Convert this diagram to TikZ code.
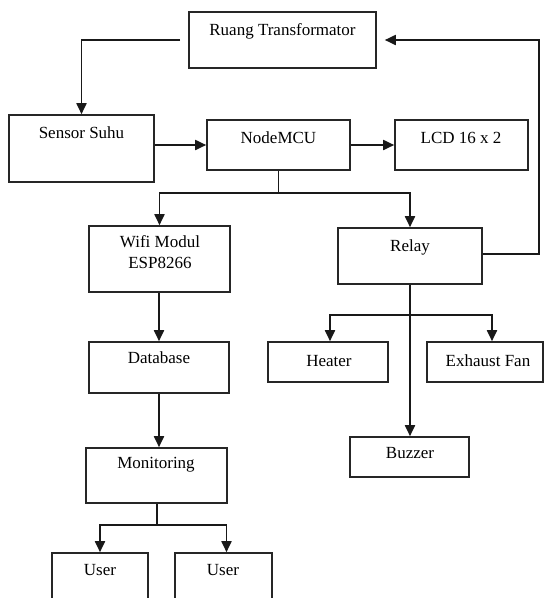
\documentclass[tikz,border=0pt]{standalone}
\usepackage{fontspec}
\setmainfont{Liberation Serif}
\usetikzlibrary{arrows.meta,calc}
\begin{document}
\begin{tikzpicture}[x=1pt,y=1pt,
  box/.style={draw=black!85,line width=1.6pt,rectangle,inner sep=0pt},
  lbl/.style={anchor=base,font=\fontsize{17}{20}\selectfont,inner sep=0pt,text=black},
  arr/.style={draw=black!90,line width=1.8pt,-{Triangle[width=10pt,length=11pt]}},
  ln/.style={draw=black!90,line width=1.8pt}]
\fill[white] (0,0) rectangle (544,-598);
\useasboundingbox (0,0) rectangle (544,-598);
% boxes
\node[box,minimum width=187pt,minimum height=56pt] (ruang) at (282.5,-40) {};
\node[box,minimum width=145pt,minimum height=67pt] (sensor) at (81.5,-148.5) {};
\node[box,minimum width=143pt,minimum height=50pt] (mcu) at (278.5,-145) {};
\node[box,minimum width=133pt,minimum height=50pt] (lcd) at (461.5,-145) {};
\node[box,minimum width=141pt,minimum height=66pt] (wifi) at (159.5,-259) {};
\node[box,minimum width=144pt,minimum height=56pt] (relay) at (410,-256) {};
\node[box,minimum width=140pt,minimum height=51pt] (db) at (159,-367.5) {};
\node[box,minimum width=120pt,minimum height=40pt] (heater) at (328,-362) {};
\node[box,minimum width=116pt,minimum height=40pt] (exhaust) at (485,-362) {};
\node[box,minimum width=119pt,minimum height=40pt] (buzzer) at (409.5,-457) {};
\node[box,minimum width=141pt,minimum height=55pt] (monit) at (156.5,-475.5) {};
\node[box,minimum width=96pt,minimum height=57pt] (user1) at (100,-581.5) {};
\node[box,minimum width=97pt,minimum height=57pt] (user2) at (223.5,-581.5) {};
% labels
\node[lbl] (t-ruang) at (282.5,-35.5) {Ruang Transformator};
\node[lbl] (t-sensor) at (81.5,-138.5) {Sensor Suhu};
\node[lbl] (t-mcu) at (278.5,-143.5) {NodeMCU};
\node[lbl] (t-lcd) at (461,-143.5) {LCD 16 x 2};
\node[lbl] (t-wifi1) at (160,-247.5) {Wifi Modul};
\node[lbl] (t-wifi2) at (160,-268.5) {ESP8266};
\node[lbl] (t-relay) at (410,-251.5) {Relay};
\node[lbl] (t-db) at (159,-363.5) {Database};
\node[lbl] (t-heater) at (329,-366.5) {Heater};
\node[lbl] (t-exhaust) at (488,-366.5) {Exhaust Fan};
\node[lbl] (t-buzzer) at (410,-458.5) {Buzzer};
\node[lbl] (t-monit) at (156,-468.5) {Monitoring};
\node[lbl] (t-user1) at (100,-575.5) {User};
\node[lbl] (t-user2) at (223,-575.5) {User};
% connectors
\draw[arr] ([xshift=-8pt]ruang.west) -| (sensor.north);
\draw[arr] (sensor.east |- mcu.west) -- (mcu.west);
\draw[arr] (mcu.east) -- (lcd.west);
\coordinate (mb) at ($(mcu.south)+(0,-22)$);
\draw[ln] (mcu.south) -- (mb);
\draw[arr] (mb) -| (wifi.north);
\draw[arr] (mb) -| (relay.north);
\draw[arr] ([xshift=-0.5pt]wifi.south) -- ([xshift=-0.5pt]wifi.south |- db.north);
\draw[arr] (db.south) -- (db.south |- monit.north);
\coordinate (ob) at ($(monit.south)+(0.5,-21)$);
\draw[ln] ([xshift=0.5pt]monit.south) -- (ob);
\draw[arr] (ob) -| (user1.north);
\draw[arr] (ob) -| ([xshift=3pt]user2.north);
\draw[arr] (relay.south) -- (relay.south |- buzzer.north);
\coordinate (rb) at ($(relay.south)+(0,-30)$);
\draw[arr] (rb) -| ([xshift=2pt]heater.north);
\draw[arr] (rb) -| ([xshift=7pt]exhaust.north);
\coordinate (fb) at (539,0);
\draw[arr] ([yshift=2pt]relay.east) -| (fb |- ruang.east) -- ([xshift=8pt]ruang.east);
\end{tikzpicture}
\end{document}
